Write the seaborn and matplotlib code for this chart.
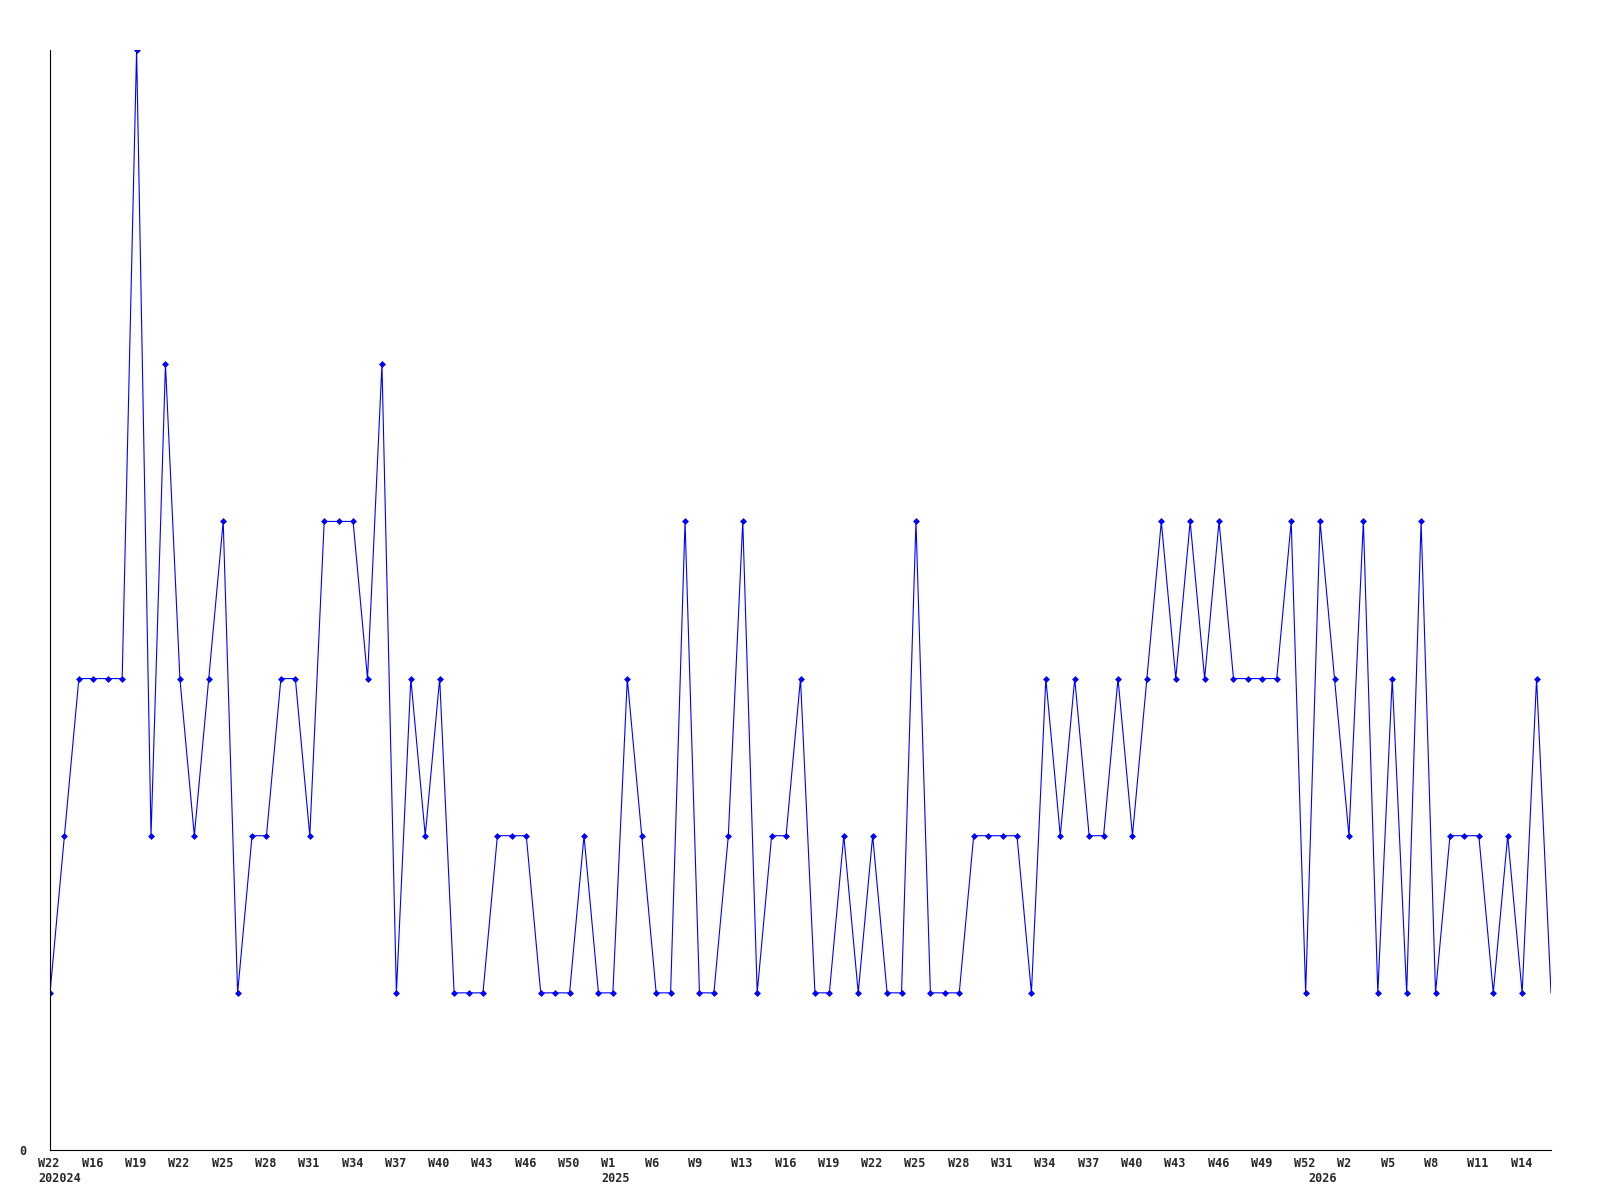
import numpy as np
import pandas as pd
import matplotlib
matplotlib.use("Agg")
import matplotlib.pyplot as plt
import matplotlib.transforms as mtransforms
import seaborn as sns

# ---- data (weekly counts) ----
values = [1, 2, 3, 3, 3, 3, 7, 2, 5, 3,
          2, 3, 4, 1, 2, 2, 3, 3, 2, 4,
          4, 4, 3, 5, 1, 3, 2, 3, 1, 1,
          1, 2, 2, 2, 1, 1, 1, 2, 1, 1,
          3, 2, 1, 1, 4, 1, 1, 2, 4, 1,
          2, 2, 3, 1, 1, 2, 1, 2, 1, 1,
          4, 1, 1, 1, 2, 2, 2, 2, 1, 3,
          2, 3, 2, 2, 3, 2, 3, 4, 3, 4,
          3, 4, 3, 3, 3, 3, 4, 1, 4, 3,
          2, 4, 1, 3, 1, 4, 1, 2, 2, 2,
          1, 2, 1, 3, 1]

week_labels = ["W22", "W16", "W19", "W22", "W25", "W28", "W31", "W34", "W37",
               "W40", "W43", "W46", "W50", "W1", "W6", "W9", "W13", "W16",
               "W19", "W22", "W25", "W28", "W31", "W34", "W37", "W40", "W43",
               "W46", "W49", "W52", "W2", "W5", "W8", "W11", "W14"]
year_labels = ["202024", "2025", "2026"]

# ---- layout: which points carry a label ----
week_tick_idx = list(range(0, len(values), 3))
year_tick_idx = [0, 39, 88]
LABEL_SHIFT_PX = -11.5

df = pd.DataFrame({"idx": np.arange(len(values)), "count": values})

sns.set_style("white")
plt.rcParams["font.family"] = ["DejaVu Sans Mono", "DejaVu Sans"]

fig = plt.figure(figsize=(16, 12), dpi=100)
ax = fig.add_axes([50 / 1600, 50 / 1200, 1501 / 1600, 1100 / 1200])

sns.lineplot(data=df, x="idx", y="count", ax=ax, color="#0000FF",
             linewidth=0.8, marker="D", markersize=3.0, markeredgewidth=0.5,
             markeredgecolor="#0000FF",
             markevery=list(range(len(values) - 1)))

ax.set_xlabel("")
ax.set_ylabel("")

for s in ["top", "right"]:
    ax.spines[s].set_visible(False)
for s in ["left", "bottom"]:
    ax.spines[s].set_color("black")
    ax.spines[s].set_linewidth(0.8)

ax.set_yticks([0])
ax.set_yticklabels(["0"], fontsize=8.5, fontweight="bold")
ax.tick_params(axis="y", length=0, pad=17)

ax.xaxis.remove_overlapping_locs = False
ax.set_xticks(week_tick_idx)
ax.set_xticklabels(week_labels, fontsize=8.5, fontweight="bold", ha="left")
ax.set_xticks(year_tick_idx, minor=True)
ax.set_xticklabels(year_labels, minor=True, fontsize=8.5, fontweight="bold", ha="left")
ax.tick_params(axis="x", which="major", length=0, pad=5)
ax.tick_params(axis="x", which="minor", length=0, pad=15.5)
ax.grid(False)

ax.set_xlim(0, len(values) - 1)
ax.set_ylim(0, 7)

shift = mtransforms.ScaledTranslation(LABEL_SHIFT_PX / 100, 0, fig.dpi_scale_trans)
for lbl in ax.get_xticklabels(which="both"):
    lbl.set_transform(lbl.get_transform() + shift)

fig.savefig("out.png", dpi=100, facecolor="white")
